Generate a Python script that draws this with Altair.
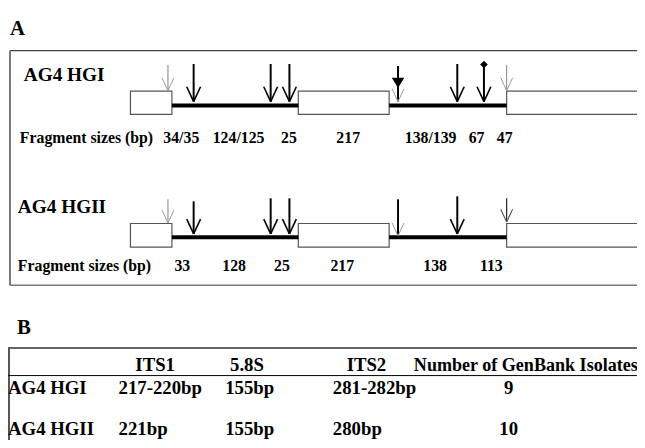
import altair as alt
import pandas as pd

FONT = "Liberation Serif"
W, H = 637, 432
XS = alt.Scale(domain=[8, 8 + W], range=[0, W], zero=False, nice=False)
YS = alt.Scale(domain=[8, 8 + H], reverse=True, zero=False, nice=False)

# ---------------- Panel A: ITS region diagram ----------------
ROWS = ["AG4 HGI", "AG4 HGII"]
ROW_NAME_X = [24, 18]
ROW_NAME_Y = [79.5, 213]
BOX_TOP = [89.5, 223.5]
BOX_BOTTOM = [113, 247.5]
LINE_Y = [104, 237.5]
BOX_STARTS = [132, 302, 513]
BOX_ENDS = [174, 394, 662]
LINE_STARTS = [174, 394]
LINE_ENDS = [302, 513]

# restriction sites (arrows)
HGI_ARROW_X = [170, 196, 274, 293, 403, 463, 490, 513]
HGI_ARROW_TOP = [63, 62, 62, 62, 64, 62, 62, 63]
HGI_ARROW_TIP = [89, 100, 100, 100, 100, 100, 100, 89]
HGI_SHAFT = ["thin", "bold", "bold", "bold", "bold", "bold", "bold", "thin"]
HGI_HEAD = ["thin", "bold", "bold", "bold", "thin", "bold", "bold", "thin"]

HGII_ARROW_X = [170, 196, 274, 293, 403, 463, 513]
HGII_ARROW_TOP = [199, 201, 198, 198, 199, 196, 198]
HGII_ARROW_TIP = [223, 234, 234, 234, 236, 234, 222]
HGII_SHAFT = ["thin", "bold", "bold", "bold", "bold", "bold", "dark"]
HGII_HEAD = ["thin", "bold", "bold", "bold", "thin", "bold", "dark"]

TRIANGLE_X, TRIANGLE_Y = [403], [81]
DIAMOND_X, DIAMOND_Y = [490], [62.5]

FRAG_LABEL = "Fragment sizes (bp)"
FRAG_LABEL_X = [20, 18]
FRAG_Y = [142, 272]
HGI_FRAGS = ["34/35", "124/125", "25", "217", "138/139", "67", "47"]
HGI_FRAG_X = [183.5, 241.5, 292.5, 352.5, 436, 482.5, 511]
HGII_FRAGS = ["33", "128", "25", "217", "138", "113"]
HGII_FRAG_X = [184.5, 237, 285.5, 346.5, 440.5, 497.5]

PANEL_LABELS = ["A", "B"]
PANEL_X = [10, 17]
PANEL_Y = [33, 335]

# ---------------- Panel B: table ----------------
TABLE_HEADERS = ["ITS1", "5.8S", "ITS2"]
TABLE_HEADER_X = [157, 250, 371]
TABLE_HEADER_Y = 373
COUNT_HEADER = "Number of GenBank Isolates"
COUNT_HEADER_X = 419
TABLE_ROWS = ["AG4 HGI", "AG4 HGII"]
TABLE_ROW_Y = [396, 438]
ITS1 = ["217-220bp", "221bp"]
S58 = ["155bp", "155bp"]
ITS2 = ["281-282bp", "280bp"]
ISOLATES = ["9", "10"]
TABLE_COL_X = [8, 120, 228, 337]
COUNT_X = 515

STYLE = {
    "thin": dict(shaft="#808080", sw=1.0, head="#999999", hw=1.0, dx=6, dy=13),
    "bold": dict(shaft="#000000", sw=2.0, head="#000000", hw=1.6, dx=7, dy=15),
    "dark": dict(shaft="#222222", sw=1.2, head="#555555", hw=1.1, dx=6, dy=13),
}

# ---------- build line segments ----------
segs = []

def seg(x, y, x2, y2, c, w):
    segs.append(dict(x=x, y=y, x2=x2, y2=y2, c=c, w=w))

# panel A frame
seg(10, 48.5, 662, 48.5, "#444444", 1.3)
seg(10, 48.5, 10, 286, "#777777", 2)
seg(10, 286, 662, 286, "#777777", 1.5)
# table lines
seg(8, 349.5, 662, 349.5, "#666666", 2)
seg(9, 349.5, 9, 448, "#555555", 2)
seg(8, 377.5, 662, 377.5, "#000000", 1)

# backbone thick lines
for r in range(2):
    for a, b in zip(LINE_STARTS, LINE_ENDS):
        seg(a, LINE_Y[r], b, LINE_Y[r], "#000000", 4)

# arrows
for xs, tops, tips, shafts, heads in [
    (HGI_ARROW_X, HGI_ARROW_TOP, HGI_ARROW_TIP, HGI_SHAFT, HGI_HEAD),
    (HGII_ARROW_X, HGII_ARROW_TOP, HGII_ARROW_TIP, HGII_SHAFT, HGII_HEAD),
]:
    for x, t, p, s, h in zip(xs, tops, tips, shafts, heads):
        ss, hs = STYLE[s], STYLE[h]
        seg(x, t, x, p, ss["shaft"], ss["sw"])
        seg(x - hs["dx"], p - hs["dy"], x, p, hs["head"], hs["hw"])
        seg(x + hs["dx"], p - hs["dy"], x, p, hs["head"], hs["hw"])

seg_df = pd.DataFrame(segs)

boxes = []
for r in range(2):
    for a, b in zip(BOX_STARTS, BOX_ENDS):
        boxes.append(dict(x=a, x2=b, y=BOX_TOP[r], y2=BOX_BOTTOM[r]))
box_df = pd.DataFrame(boxes)

X = lambda f: alt.X(f, scale=XS, axis=None)
Y = lambda f: alt.Y(f, scale=YS, axis=None)

box_layer = alt.Chart(box_df).mark_rect(fill="white", stroke="#555555", strokeWidth=1.2).encode(
    x=X("x:Q"), x2="x2:Q", y=Y("y:Q"), y2="y2:Q")

seg_layer = alt.Chart(seg_df).mark_rule(strokeCap="butt").encode(
    x=X("x:Q"), x2="x2:Q", y=Y("y:Q"), y2="y2:Q",
    color=alt.Color("c:N", scale=None),
    strokeWidth=alt.StrokeWidth("w:Q", scale=None))

tri_layer = alt.Chart(pd.DataFrame(dict(x=TRIANGLE_X, y=TRIANGLE_Y))).mark_point(
    shape="M-1,-0.8L1,-0.8L0,0.85Z", filled=True, size=160, color="black", opacity=1).encode(
    x=X("x:Q"), y=Y("y:Q"))
dia_layer = alt.Chart(pd.DataFrame(dict(x=DIAMOND_X, y=DIAMOND_Y))).mark_point(
    shape="diamond", filled=True, size=60, color="black", opacity=1).encode(
    x=X("x:Q"), y=Y("y:Q"))

def text_layer(labels, xs, ys, size, align="left"):
    df = pd.DataFrame(dict(t=labels, x=xs, y=ys))
    return alt.Chart(df).mark_text(
        font=FONT, fontWeight="bold", fontSize=size, align=align,
        baseline="alphabetic", color="black").encode(
        x=X("x:Q"), y=Y("y:Q"), text="t:N")

texts = [
    text_layer(PANEL_LABELS, PANEL_X, PANEL_Y, 21),
    text_layer(ROWS, ROW_NAME_X, ROW_NAME_Y, 19.5),
    text_layer([FRAG_LABEL] * 2, FRAG_LABEL_X, FRAG_Y, 16),
    text_layer(HGI_FRAGS, HGI_FRAG_X, [FRAG_Y[0]] * len(HGI_FRAGS), 16, "center"),
    text_layer(HGII_FRAGS, HGII_FRAG_X, [FRAG_Y[1]] * len(HGII_FRAGS), 16, "center"),
    text_layer(TABLE_HEADERS, TABLE_HEADER_X, [TABLE_HEADER_Y] * 3, 19, "center"),
    text_layer([COUNT_HEADER], [COUNT_HEADER_X], [TABLE_HEADER_Y], 18.3),
    text_layer(TABLE_ROWS, [TABLE_COL_X[0]] * 2, TABLE_ROW_Y, 19),
    text_layer(ITS1, [TABLE_COL_X[1]] * 2, TABLE_ROW_Y, 19),
    text_layer(S58, [TABLE_COL_X[2]] * 2, TABLE_ROW_Y, 19),
    text_layer(ITS2, [TABLE_COL_X[3]] * 2, TABLE_ROW_Y, 19),
    text_layer(ISOLATES, [COUNT_X] * 2, TABLE_ROW_Y, 19, "center"),
]

chart = alt.layer(box_layer, seg_layer, tri_layer, dia_layer, *texts).properties(
    width=W, height=H, padding=0, autosize=alt.AutoSizeParams(type="none"),
    background="white",
).configure_view(stroke=None)

chart.save("out.html", embed_options={"renderer": "svg", "actions": False})
